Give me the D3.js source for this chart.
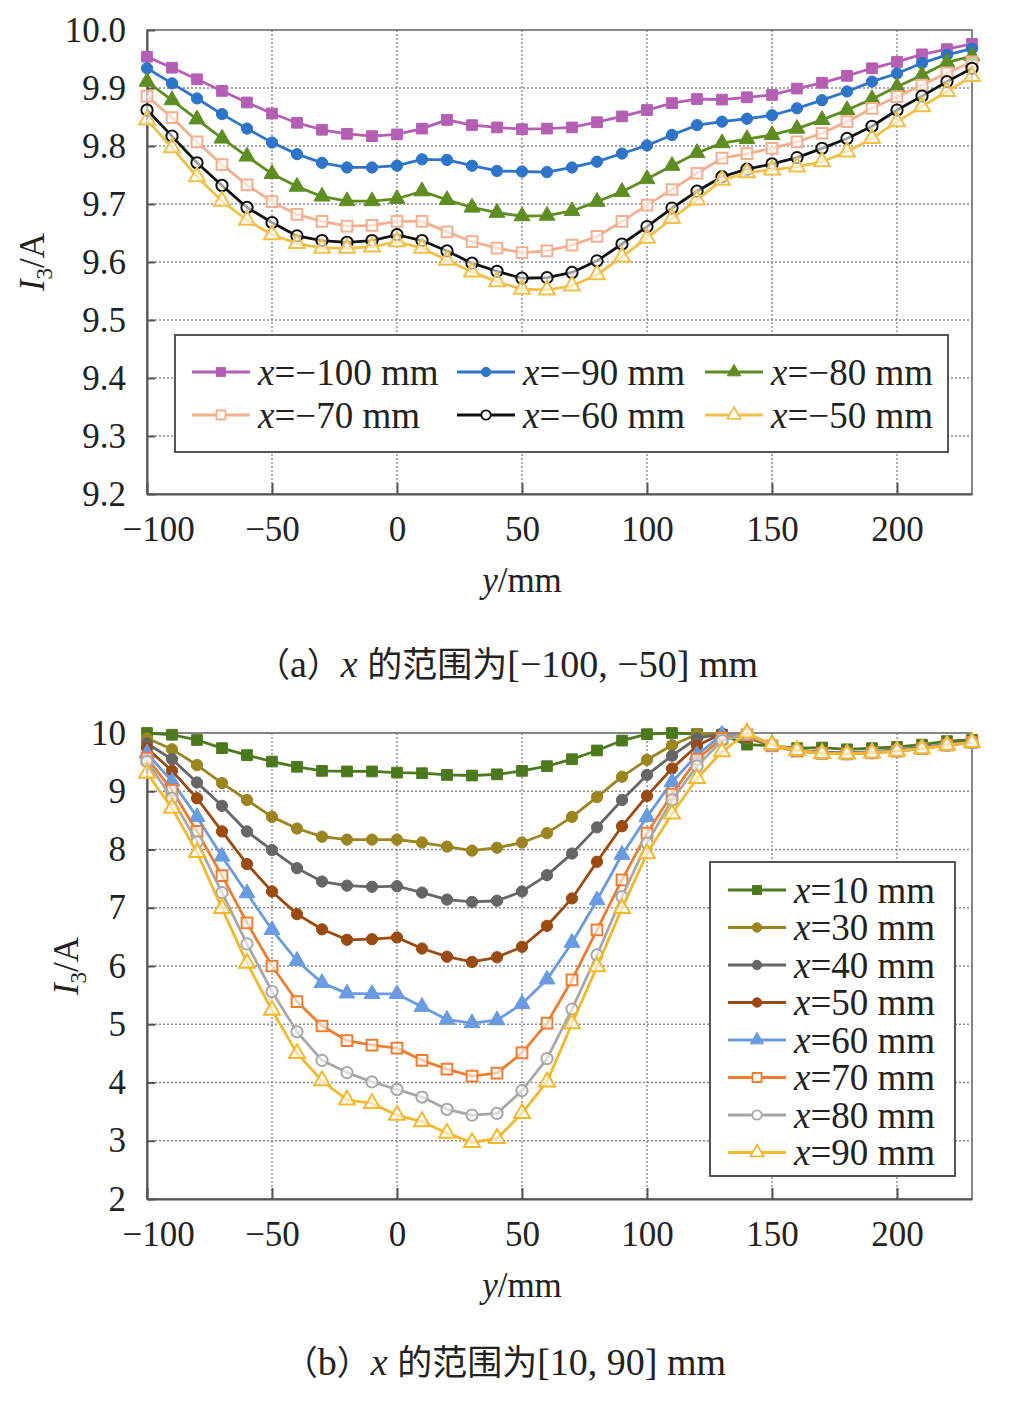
<!DOCTYPE html>
<html>
<head>
<meta charset="utf-8">
<script src="https://cdn.jsdelivr.net/npm/d3@7"></script>
<style>
  body { margin: 0; background: #fff; }
  svg { display: block; }
  text { font-family: "Liberation Serif", "Times New Roman", "Noto Sans CJK SC", serif; fill: #222; }
</style>
</head>
<body>
<svg id="chart" width="1020" height="1415"></svg>
<script>
// ---- shared categories (y position along the path, mm) ----
const yPositions = [-100,-90,-80,-70,-60,-50,-40,-30,-20,-10,0,10,20,30,40,50,60,70,80,90,100,110,120,130,140,150,160,170,180,190,200,210,220,230];
const xTickValues = [-100,-50,0,50,100,150,200];
const xTickLabels = ["\u2212100","\u221250","0","50","100","150","200"];

// ---- panel (a) ----
const seriesNamesA = ["x=\u2212100 mm","x=\u221290 mm","x=\u221280 mm","x=\u221270 mm","x=\u221260 mm","x=\u221250 mm"];
const xm100 = [9.954,9.935,9.915,9.895,9.875,9.856,9.840,9.828,9.821,9.817,9.820,9.830,9.845,9.836,9.832,9.829,9.830,9.832,9.841,9.851,9.862,9.874,9.881,9.880,9.884,9.888,9.899,9.909,9.921,9.934,9.945,9.958,9.967,9.976];
const xm90  = [9.934,9.908,9.882,9.855,9.830,9.806,9.786,9.771,9.763,9.763,9.766,9.777,9.776,9.766,9.757,9.756,9.755,9.763,9.773,9.787,9.801,9.819,9.836,9.842,9.847,9.853,9.865,9.879,9.894,9.911,9.925,9.943,9.957,9.968];
const xm80  = [9.911,9.879,9.846,9.813,9.782,9.752,9.730,9.713,9.705,9.705,9.709,9.722,9.707,9.694,9.685,9.679,9.680,9.688,9.704,9.721,9.743,9.766,9.788,9.805,9.812,9.819,9.830,9.845,9.862,9.881,9.902,9.922,9.944,9.955];
const xm70  = [9.886,9.849,9.807,9.768,9.733,9.704,9.682,9.670,9.662,9.663,9.670,9.670,9.652,9.635,9.624,9.616,9.619,9.629,9.644,9.670,9.698,9.725,9.753,9.779,9.787,9.796,9.807,9.822,9.842,9.865,9.885,9.905,9.926,9.945];
const xm60  = [9.862,9.817,9.771,9.732,9.694,9.668,9.645,9.637,9.634,9.637,9.647,9.637,9.619,9.598,9.584,9.572,9.573,9.582,9.602,9.631,9.661,9.693,9.722,9.747,9.760,9.769,9.780,9.796,9.813,9.834,9.862,9.886,9.911,9.934];
const xm50  = [9.845,9.797,9.747,9.705,9.672,9.647,9.632,9.624,9.624,9.626,9.635,9.624,9.603,9.583,9.566,9.553,9.552,9.559,9.578,9.609,9.641,9.675,9.707,9.741,9.754,9.759,9.764,9.773,9.790,9.813,9.842,9.868,9.894,9.920];
const yTicksA = [9.2,9.3,9.4,9.5,9.6,9.7,9.8,9.9,10.0];

// ---- panel (b) ----
const seriesNamesB = ["x=10 mm","x=30 mm","x=40 mm","x=50 mm","x=60 mm","x=70 mm","x=80 mm","x=90 mm"];
const x10 = [10.0,9.97,9.88,9.74,9.62,9.51,9.42,9.35,9.34,9.34,9.32,9.31,9.28,9.27,9.29,9.35,9.43,9.55,9.70,9.87,9.98,10.0,9.98,9.97,9.80,9.78,9.74,9.75,9.72,9.74,9.76,9.80,9.86,9.88];
const x30 = [9.91,9.72,9.45,9.14,8.85,8.56,8.36,8.22,8.17,8.17,8.17,8.12,8.05,7.98,8.03,8.12,8.28,8.56,8.90,9.25,9.54,9.79,9.98,9.98,9.92,9.78,9.70,9.66,9.65,9.67,9.70,9.74,9.80,9.84];
const x40 = [9.82,9.55,9.15,8.75,8.31,7.99,7.68,7.45,7.38,7.36,7.37,7.26,7.14,7.10,7.12,7.28,7.56,7.93,8.38,8.85,9.28,9.61,9.91,9.98,9.93,9.79,9.70,9.67,9.66,9.68,9.71,9.75,9.81,9.85];
const x50 = [9.74,9.35,8.88,8.31,7.75,7.28,6.89,6.63,6.45,6.46,6.49,6.30,6.16,6.07,6.15,6.33,6.69,7.16,7.79,8.40,8.92,9.39,9.78,9.99,9.94,9.78,9.71,9.66,9.65,9.67,9.70,9.74,9.80,9.84];
const x60 = [9.65,9.17,8.56,7.88,7.25,6.62,6.09,5.71,5.53,5.52,5.52,5.30,5.08,5.02,5.07,5.35,5.77,6.40,7.13,7.91,8.56,9.16,9.62,9.97,9.96,9.79,9.70,9.66,9.65,9.67,9.70,9.74,9.80,9.84];
const x70 = [9.57,9.02,8.31,7.55,6.74,6.00,5.39,4.97,4.72,4.64,4.59,4.38,4.23,4.11,4.16,4.51,5.02,5.76,6.62,7.48,8.28,8.95,9.55,9.91,9.97,9.78,9.69,9.65,9.64,9.66,9.69,9.73,9.79,9.84];
const x80 = [9.51,8.88,8.13,7.26,6.38,5.56,4.87,4.38,4.17,4.01,3.88,3.75,3.54,3.44,3.47,3.86,4.41,5.26,6.19,7.19,8.11,8.85,9.43,9.87,9.98,9.79,9.70,9.65,9.64,9.66,9.69,9.73,9.79,9.83];
const x90 = [9.31,8.71,7.95,6.99,6.05,5.24,4.50,4.03,3.70,3.64,3.44,3.33,3.13,2.97,3.04,3.47,4.01,5.01,5.99,6.99,7.93,8.61,9.22,9.68,10.0,9.80,9.70,9.65,9.64,9.66,9.69,9.73,9.79,9.84];
const yTicksB = [2,3,4,5,6,7,8,9,10];

// ---- styling ----
const stylesA = [
  {color:"#b45eb4", shape:"square",   open:false},
  {color:"#2e74c8", shape:"circle",   open:false},
  {color:"#5e8e22", shape:"triangle", open:false},
  {color:"#f2b08e", shape:"square",   open:true},
  {color:"#111111", shape:"circle",   open:true},
  {color:"#f0c04a", shape:"triangle", open:true}
];
const stylesB = [
  {color:"#4b7a1e", shape:"square",   open:false},
  {color:"#9c8420", shape:"circle",   open:false},
  {color:"#666666", shape:"circle",   open:false},
  {color:"#9b4a12", shape:"circle",   open:false},
  {color:"#6a9be0", shape:"triangle", open:false},
  {color:"#ed7d31", shape:"square",   open:true},
  {color:"#a8a8a8", shape:"circle",   open:true},
  {color:"#f2b92e", shape:"triangle", open:true}
];

const svg = d3.select("#chart");
const serif = "'Liberation Serif','Times New Roman',serif";
const cjk = "'Noto Sans CJK SC'";

function markerPath(shape, s) {
  const t = shape === "square" ? d3.symbolSquare : shape === "circle" ? d3.symbolCircle : d3.symbolTriangle;
  return d3.symbol().type(t).size(s)();
}
function markerSize(shape, scale) {
  const base = shape === "square" ? 115 : shape === "circle" ? 100 : 110;
  return base * scale;
}

function drawPanel(cfg) {
  const g = svg.append("g");
  const x = d3.scaleLinear().domain([-100, 230]).range([cfg.left, cfg.right]);
  const y = d3.scaleLinear().domain(cfg.yDomain).range([cfg.bottom, cfg.top]);

  // grid
  g.append("g").selectAll("line").data(cfg.yTicks.slice(1, -1)).join("line")
    .attr("x1", cfg.left).attr("x2", cfg.right)
    .attr("y1", d => y(d)).attr("y2", d => y(d))
    .attr("stroke", "#8a8a8a").attr("stroke-width", 1.4).attr("stroke-dasharray", "2 2");
  g.append("g").selectAll("line").data(xTickValues.slice(1)).join("line")
    .attr("y1", cfg.top).attr("y2", cfg.bottom)
    .attr("x1", d => x(d)).attr("x2", d => x(d))
    .attr("stroke", "#8a8a8a").attr("stroke-width", 1.4).attr("stroke-dasharray", "2 2");

  // frame
  g.append("rect").attr("x", cfg.left).attr("y", cfg.top)
    .attr("width", cfg.right - cfg.left).attr("height", cfg.bottom - cfg.top)
    .attr("fill", "none").attr("stroke", "#6a6a6a").attr("stroke-width", 1.6);

  // axes
  const yAxis = d3.axisLeft(y).tickValues(cfg.yTicks).tickFormat(cfg.yFormat).tickSizeInner(-8).tickSizeOuter(0).tickPadding(21);
  const ya = g.append("g").attr("transform", `translate(${cfg.left},0)`).call(yAxis);
  ya.select(".domain").attr("stroke", "#555").attr("stroke-width", 2);
  ya.selectAll(".tick line").attr("stroke", "#555").attr("stroke-width", 2);
  ya.selectAll(".tick text").attr("font-family", serif).attr("font-size", 35).attr("fill", "#222");

  const xAxis = d3.axisBottom(x).tickValues(xTickValues).tickFormat((d, i) => xTickLabels[i]).tickSizeInner(-11).tickSizeOuter(0).tickPadding(22);
  const xa = g.append("g").attr("transform", `translate(0,${cfg.bottom})`).call(xAxis);
  xa.select(".domain").attr("stroke", "#555").attr("stroke-width", 2);
  xa.selectAll(".tick line").attr("stroke", "#555").attr("stroke-width", 2);
  xa.selectAll(".tick text").attr("font-family", serif).attr("font-size", 35).attr("fill", "#222");
  xa.selectAll(".tick").filter(d => d === -100).select("text").attr("text-anchor", "start").attr("x", -25);

  // series
  const line = d3.line().x((d, i) => x(yPositions[i])).y(d => y(d));
  cfg.series.forEach((vals, si) => {
    const st = cfg.styles[si];
    g.append("path").datum(vals).attr("d", line)
      .attr("fill", "none").attr("stroke", st.color).attr("stroke-width", 2.8).attr("stroke-linejoin", "round");
    g.append("g").selectAll("path").data(vals).join("path")
      .attr("transform", (d, i) => `translate(${x(yPositions[i])},${y(d)})`)
      .attr("d", markerPath(st.shape, markerSize(st.shape, 1)))
      .attr("fill", st.open ? "#fff" : st.color)
      .attr("fill-opacity", st.open ? 0.6 : 1)
      .attr("stroke", st.color).attr("stroke-width", st.open ? 2 : 1);
  });

  // axis titles
  const yt = g.append("text").attr("transform", `translate(${cfg.yTitleX},${(cfg.top + cfg.bottom) / 2})rotate(-90)`)
    .attr("text-anchor", "middle").attr("font-size", 35).attr("font-family", serif);
  yt.append("tspan").attr("font-style", "italic").text("I");
  yt.append("tspan").attr("font-size", 23).attr("dy", 8).text("3");
  yt.append("tspan").attr("dy", -8).text("/A");

  const xt = g.append("text").attr("x", x(50)).attr("y", cfg.bottom + 98)
    .attr("text-anchor", "middle").attr("font-size", 35).attr("font-family", serif);
  xt.append("tspan").attr("font-style", "italic").text("y");
  xt.append("tspan").text("/mm");

  // caption
  const cap = g.append("text").attr("x", cfg.capX).attr("y", cfg.capY).attr("text-anchor", "middle")
    .attr("font-size", 38).attr("font-family", serif);
  cap.append("tspan").attr("font-family", cjk).attr("font-size", 34).text("\uff08");
  cap.append("tspan").text(cfg.capLetter);
  cap.append("tspan").attr("font-family", cjk).attr("font-size", 34).text("\uff09");
  cap.append("tspan").attr("font-style", "italic").text("x ");
  cap.append("tspan").attr("font-family", cjk).attr("font-size", 35).text("\u7684\u8303\u56f4\u4e3a");
  cap.append("tspan").text(cfg.capRange);

  // legend
  const lg = g.append("g");
  lg.append("rect").attr("x", cfg.legend.x).attr("y", cfg.legend.y)
    .attr("width", cfg.legend.w).attr("height", cfg.legend.h)
    .attr("fill", "#fff").attr("stroke", "#444").attr("stroke-width", 1.8);
  cfg.names.forEach((name, i) => {
    const st = cfg.styles[i];
    const pos = cfg.legend.pos(i);
    const item = lg.append("g").attr("transform", `translate(${pos[0]},${pos[1]})`);
    item.append("line").attr("x1", 0).attr("x2", 58).attr("y1", 0).attr("y2", 0)
      .attr("stroke", st.color).attr("stroke-width", 2.8);
    item.append("path").attr("transform", "translate(29,0)")
      .attr("d", markerPath(st.shape, markerSize(st.shape, 0.7)))
      .attr("fill", st.open ? "#fff" : st.color)
      .attr("stroke", st.color).attr("stroke-width", st.open ? 1.8 : 1);
    const t = item.append("text").attr("x", 66).attr("y", 0).attr("dy", "0.35em")
      .attr("font-size", 37).attr("font-family", serif);
    t.append("tspan").attr("font-style", "italic").text("x");
    t.append("tspan").text(name.slice(1));
  });
}

const legendColsA = [192, 457, 705];

drawPanel({
  left: 147, right: 972, top: 30, bottom: 494,
  yDomain: [9.2, 10.0], yTicks: yTicksA, yFormat: d3.format(".1f"),
  series: [xm100, xm90, xm80, xm70, xm60, xm50], styles: stylesA, names: seriesNamesA,
  yTitleX: 44,
  capX: 507, capY: 677, capLetter: "a", capRange: "[\u2212100, \u221250] mm",
  legend: { x: 175, y: 335, w: 773, h: 117, pos: i => [legendColsA[i % 3], 372 + Math.floor(i / 3) * 43] }
});

drawPanel({
  left: 147, right: 972, top: 733, bottom: 1199,
  yDomain: [2, 10], yTicks: yTicksB, yFormat: d3.format("d"),
  series: [x10, x30, x40, x50, x60, x70, x80, x90], styles: stylesB, names: seriesNamesB,
  yTitleX: 78,
  capX: 505, capY: 1375, capLetter: "b", capRange: "[10, 90] mm",
  legend: { x: 710, y: 862, w: 245, h: 314, pos: i => [728, 890 + i * 37.5] }
});
</script>
</body>
</html>
